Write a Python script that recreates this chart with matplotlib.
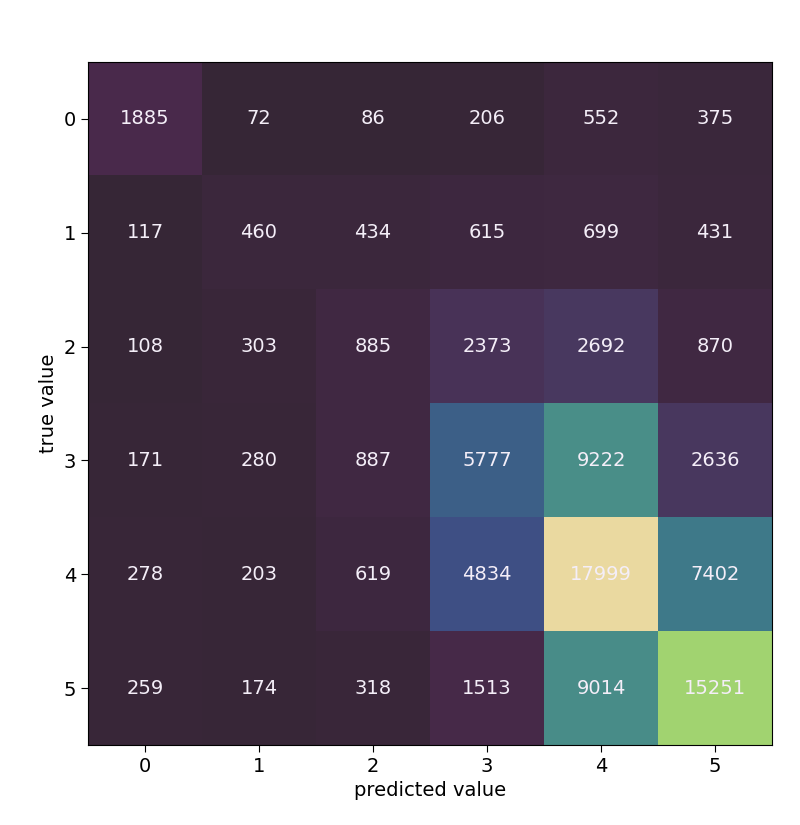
import numpy as np
import matplotlib
matplotlib.use("Agg")
import matplotlib.pyplot as plt
from matplotlib.colors import LinearSegmentedColormap

# confusion matrix values (rows = true, cols = predicted)
labels = [0, 1, 2, 3, 4, 5]
row0 = [1885, 72, 86, 206, 552, 375]
row1 = [117, 460, 434, 615, 699, 431]
row2 = [108, 303, 885, 2373, 2692, 870]
row3 = [171, 280, 887, 5777, 9222, 2636]
row4 = [278, 203, 619, 4834, 17999, 7402]
row5 = [259, 174, 318, 1513, 9014, 15251]
cm = np.array([row0, row1, row2, row3, row4, row5])

# washed-out viridis-like ramp, as seen in the reference
stops = [
    (0.00, (54, 38, 54)),
    (0.03, (62, 40, 64)),
    (0.10, (74, 42, 76)),
    (0.15, (72, 58, 98)),
    (0.27, (62, 80, 133)),
    (0.32, (60, 96, 136)),
    (0.41, (63, 122, 138)),
    (0.51, (74, 143, 136)),
    (0.85, (162, 212, 112)),
    (1.00, (234, 217, 160)),
]
cmap = LinearSegmentedColormap.from_list(
    "muted_viridis", [(p, tuple(c / 255 for c in rgb)) for p, rgb in stops])

fig = plt.figure(figsize=(8, 8.25), dpi=100)
ax = fig.add_axes([0.11, 0.097, 0.855, 0.828])
ax.imshow(cm, cmap=cmap, aspect="auto")

for i in range(cm.shape[0]):
    for j in range(cm.shape[1]):
        ax.text(j, i, str(cm[i, j]), ha="center", va="center",
                color="#f4eef8", fontsize=14)

ax.set_xticks(range(len(labels)))
ax.set_yticks(range(len(labels)))
ax.set_xticklabels(labels, fontsize=14)
ax.set_yticklabels(labels, fontsize=14)
ax.tick_params(length=5)
ax.set_xlabel("predicted value", fontsize=14)
ax.set_ylabel("true value", fontsize=14)

fig.savefig("out.png", dpi=100)
